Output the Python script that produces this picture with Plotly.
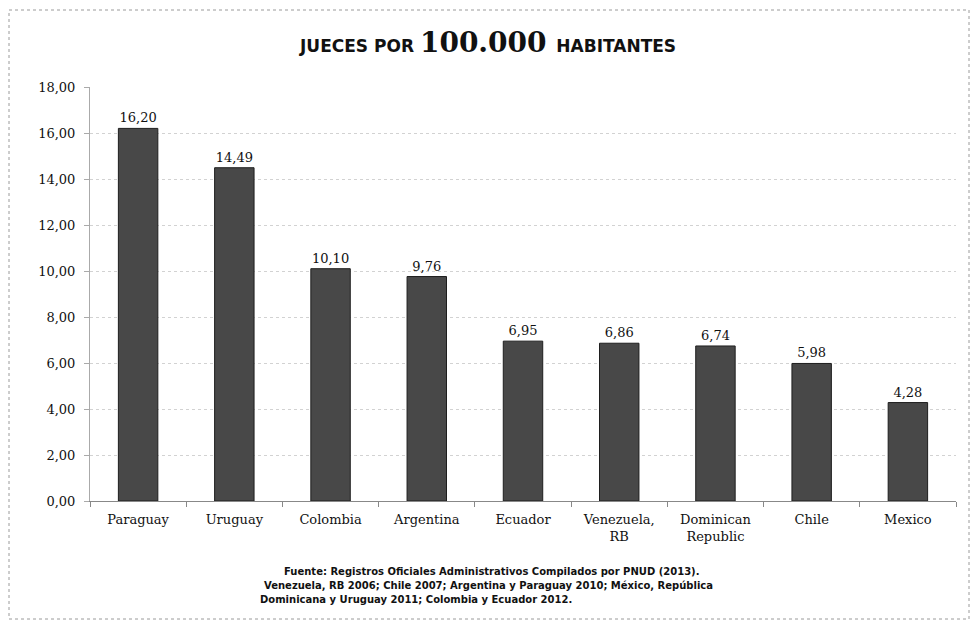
import plotly.graph_objects as go

countries = ["Paraguay", "Uruguay", "Colombia", "Argentina", "Ecuador",
             "Venezuela,<br>RB", "Dominican<br>Republic", "Chile", "Mexico"]
judges_per_100k = [16.20, 14.49, 10.10, 9.76, 6.95, 6.86, 6.74, 5.98, 4.28]
y_ticks = [0, 2, 4, 6, 8, 10, 12, 14, 16, 18]

source_lines = [
    "Fuente: Registros Oficiales Administrativos Compilados por PNUD (2013).",
    "Venezuela, RB 2006; Chile 2007; Argentina y Paraguay 2010; México, República",
    "Dominicana y Uruguay 2011; Colombia y Ecuador 2012.",
]

serif = "DejaVu Serif, Liberation Serif, serif"
sans_bold = "DejaVu Sans, Liberation Sans, sans-serif"

W, H = 973, 621
ML, MR, MT, MB = 90, 17, 87, 120
PW, PH = W - ML - MR, H - MT - MB


def px_to_paper(px, py):
    return (px - ML) / PW, (H - MB - py) / PH


fig = go.Figure(
    go.Bar(
        x=countries,
        y=judges_per_100k,
        marker=dict(color="#484848", line=dict(color="#1e1e1e", width=1)),
        texttemplate="%{y:.2f}",
        textposition="outside",
        textfont=dict(family=serif, size=13, color="#111111"),
        cliponaxis=False,
        width=0.41,
    )
)

fig.update_layout(
    width=W,
    height=H,
    margin=dict(l=ML, r=MR, t=MT, b=MB),
    paper_bgcolor="white",
    plot_bgcolor="white",
    separators=",.",
    showlegend=False,
    font=dict(family=serif, color="#111111"),
)

fig.update_xaxes(
    showline=True, linecolor="#888888", linewidth=1,
    ticks="outside", ticklen=5, tickcolor="#888888",
    tickson="boundaries",
    ticklabelstandoff=6,
    tickfont=dict(family=serif, size=13, color="#111111"),
    showgrid=False,
)
fig.update_yaxes(
    range=[0, 18],
    tickvals=y_ticks,
    tickformat=".2f",
    showline=True, linecolor="#aaaaaa", linewidth=1,
    ticks="outside", ticklen=5, tickcolor="#aaaaaa",
    ticklabelstandoff=6,
    tickfont=dict(family=serif, size=13, color="#111111"),
    showgrid=True, gridcolor="#d2d2d2", griddash="dot", gridwidth=1,
    zeroline=False,
)

# Title with mixed typefaces
tx, ty = px_to_paper(487, 43)
fig.add_annotation(
    x=tx, y=ty, xref="paper", yref="paper", yanchor="middle",
    showarrow=False,
    text=(f"<span style='font-family:{sans_bold};font-size:17px;font-weight:bold'>JUECES POR </span>"
          f"<span style='font-family:{serif};font-size:28px;font-weight:bold'>100.000 </span>"
          f"<span style='font-family:{sans_bold};font-size:17px;font-weight:bold'>HABITANTES</span>"),
)

# Source note
note_x = [282, 262, 258]
note_y = [571, 585, 599]
for line, px, py in zip(source_lines, note_x, note_y):
    nx, ny = px_to_paper(px, py)
    fig.add_annotation(
        x=nx, y=ny, xref="paper", yref="paper",
        xanchor="left", yanchor="middle", showarrow=False,
        text=f"<b>{line}</b>",
        font=dict(family=sans_bold, size=10, color="#111111"),
    )

# Dotted frame around the chart
x0, y0 = px_to_paper(9, 619)
x1, y1 = px_to_paper(969, 10)
fig.add_shape(
    type="rect", xref="paper", yref="paper",
    x0=x0, x1=x1, y0=y0, y1=y1,
    line=dict(color="#9a9a9a", width=1, dash="dot"),
)

fig.write_html("out.html")
